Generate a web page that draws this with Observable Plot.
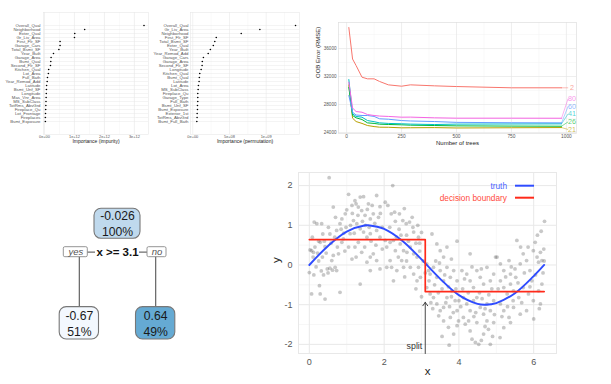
<!DOCTYPE html>
<html><head><meta charset="utf-8">
<script src="https://cdn.jsdelivr.net/npm/d3@7"></script>
<script src="https://cdn.jsdelivr.net/npm/@observablehq/plot@0.6"></script>
<style>
html,body{margin:0;padding:0;background:#fff;}
#root{position:relative;width:611px;height:384px;overflow:hidden;background:#fff;}
.panel{position:absolute;}
.panel svg{display:block;}
</style></head><body><div id="root"></div>
<script>
// ---------- DATA ----------
// Panel 1: impurity importance
const impurityFeatures = ["Overall_Qual","Neighborhood","Exter_Qual","Gr_Liv_Area","First_Flr_SF","Garage_Cars","Total_Bsmt_SF","Year_Built","Garage_Area","Bsmt_Qual","Second_Flr_SF","Kitchen_Qual","Lot_Area","Full_Bath","Year_Remod_Add","Latitude","Bsmt_Unf_SF","Longitude","Mas_Vnr_Area","MS_SubClass","TotRms_AbvGrd","Fireplace_Qu","Lot_Frontage","Fireplaces","Bsmt_Exposure"];
const impurityValues = [3.32e12,1.34e12,1.01e12,1.0e12,0.52e12,0.52e12,0.48e12,0.30e12,0.22e12,0.21e12,0.20e12,0.14e12,0.13e12,0.10e12,0.09e12,0.07e12,0.065e12,0.06e12,0.055e12,0.05e12,0.045e12,0.04e12,0.035e12,0.03e12,0.03e12];
const impurityTicks = [0,1e12,2e12,3e12];
const impurityTickLabels = ["0e+00","1e+12","2e+12","3e+12"];

// Panel 2: permutation importance
const permutationFeatures = ["Overall_Qual","Gr_Liv_Area","Neighborhood","First_Flr_SF","Total_Bsmt_SF","Exter_Qual","Year_Built","Year_Remod_Add","Garage_Cars","Garage_Area","Second_Flr_SF","Longitude","Kitchen_Qual","Bsmt_Qual","Latitude","Lot_Area","MS_SubClass","Fireplace_Qu","Garage_Type","Full_Bath","Bsmt_Unf_SF","Bsmt_Exposure","Exterior_1st","TotRms_AbvGrd","Bsmt_Full_Bath"];
const permutationValues = [1.40e9,0.914e9,0.66e9,0.32e9,0.30e9,0.28e9,0.24e9,0.21e9,0.145e9,0.13e9,0.127e9,0.114e9,0.095e9,0.09e9,0.086e9,0.077e9,0.073e9,0.068e9,0.068e9,0.068e9,0.064e9,0.064e9,0.06e9,0.059e9,0.055e9];
const permutationTicks = [0,5e8,1e9];
const permutationTickLabels = ["0e+00","5e+08","1e+09"];

// Panel 3: OOB error vs number of trees, per mtry
const oobTrees = [10,27,43,70,95,125,150,190,250,290,400,500,750,978];
const oobMtry = ["2","21","26","41","60","80"];
const oob_2  = [39000,34500,33570,31900,31670,31670,31290,30810,30620,30810,30670,30570,30390,30390];
const oob_21 = [30800,26050,25570,25300,25000,24850,24760,24750,24670,24680,24700,24650,24680,24710];
const oob_26 = [30470,26430,26100,25860,25380,25300,25190,25150,25100,25050,25000,24950,24920,24900];
const oob_41 = [31570,26670,26300,26190,25710,25550,25380,25300,25250,25200,25140,25200,25220,25240];
const oob_60 = [29290,26900,26500,26430,26430,26300,25960,25900,25710,25650,25570,25450,25400,25380];
const oob_80 = [31190,27500,27000,26900,26570,26430,26350,26300,26190,26200,26100,26050,26050,26040];
const oobLabelY = [30390,24430,25530,26670,27760,28860];
const oobTicksX = [0,250,500,750,1000];
const oobTicksY = [24000,28000,32000,36000];

// Panel 4: regression tree
const treeSplitLabel = "x >= 3.1";
const treeSplit = 3.1;
const treeValues = [-0.026,-0.67,0.64];
const treePercents = ["100%","51%","49%"];

// Panel 5: data, truth and decision boundary
const noisyPoints = [
[0.02,0.38],[0.06,0.36],[0.11,0.32],[0.0,-0.19],[0.06,-0.73],[0.27,-0.52],[0.42,-0.86],[0.29,-0.73],[0.13,1.08],[0.2,1.04],[0.33,1.04],[0.36,0.78],[0.29,0.57],[0.42,0.46],[0.53,2.2],[0.48,-0.1],[0.55,-0.08],[0.62,-0.13],[0.69,-0.06],[0.73,-0.14],[0.82,-0.69],[0.6,0.11],[0.64,0.24],[0.78,0.28],[0.87,0.57],[0.91,0.66],[0.73,0.87],[0.82,1.04],[0.87,1.16],[0.96,1.29],[0.64,1.46],[1.0,1.39],[1.05,1.78],[0.55,0.78],[0.51,0.95],[0.1,0.2],[0.15,0.45],[0.22,0.3],[0.25,0.1],[0.18,-0.05],[0.35,0.2],[0.4,0.6],[0.45,0.3],[0.58,0.55],[0.68,0.7],[0.75,0.45],[0.85,0.9],[0.92,0.8],[0.95,0.35],[0.98,0.95],[0.08,0.7],[0.32,-0.15],[0.38,-0.25],[0.5,-0.2],[0.12,-0.25],[0.7,1.2],[0.25,0.6],
[1.22,1.62],[1.25,1.54],[1.36,1.71],[1.45,1.72],[1.14,1.5],[1.31,1.46],[1.4,1.37],[1.49,1.25],[1.58,1.54],[1.8,1.75],[2.03,1.58],[1.89,1.47],[1.71,1.29],[1.63,1.16],[1.18,1.12],[1.27,1.04],[1.36,0.91],[1.45,0.83],[1.54,0.7],[1.63,0.79],[1.8,0.87],[1.89,0.7],[2.03,0.62],[1.22,0.45],[1.4,0.32],[1.31,0.57],[1.63,0.2],[1.71,0.28],[1.36,-0.48],[1.63,-0.14],[1.54,0.07],[1.8,0.11],[1.89,-0.1],[2.07,-0.06],[1.09,0.79],[1.05,0.45],[1.14,0.15],[1.1,1.0],[1.2,0.8],[1.5,1.0],[1.6,0.95],[1.75,1.05],[1.85,1.2],[1.95,0.95],[1.3,1.25],[1.42,1.1],[1.55,1.4],[1.68,1.5],[1.78,0.5],[1.95,0.4],[1.25,0.2],[1.48,0.45],[1.65,0.6],[1.9,1.3],[1.15,1.3],
[2.23,2.0],[2.1,1.5],[2.19,1.29],[2.28,1.33],[2.41,1.29],[2.5,1.12],[2.59,1.04],[2.68,1.08],[2.77,0.95],[2.54,1.42],[2.33,0.7],[2.43,0.53],[2.52,0.36],[2.61,0.32],[2.7,0.45],[2.79,0.28],[2.88,0.2],[2.3,0.36],[2.38,0.2],[2.47,0.11],[2.16,0.11],[2.2,-0.06],[2.34,-0.14],[2.52,-0.06],[2.7,-0.06],[2.79,-0.23],[2.88,-0.4],[2.97,-0.31],[2.92,-0.06],[2.07,0.45],[2.16,0.57],[2.25,0.62],[2.79,0.83],[2.92,0.7],[3.0,0.82],[2.4,0.9],[2.6,0.75],[2.85,0.55],[2.95,0.35],[2.15,0.95],[2.3,1.1],[2.45,0.75],[2.65,0.6],[2.75,1.2],[2.55,-0.3],[2.6,0.1],[2.9,1.0],[3.05,0.1],[2.25,-0.4],[2.85,-0.6],[3.0,-0.8],[2.95,0.55],
[3.14,0.03],[3.19,-0.14],[3.23,-0.23],[3.32,-0.06],[3.41,-0.31],[3.5,-0.14],[3.59,-0.4],[3.68,-0.06],[3.77,-0.31],[3.86,-0.14],[3.95,-0.4],[3.28,0.78],[3.41,0.53],[3.5,0.36],[3.59,0.2],[3.68,0.45],[3.14,-0.57],[3.23,-0.73],[3.32,-0.82],[3.41,-0.98],[3.5,-1.15],[3.59,-1.07],[3.68,-0.82],[3.81,-0.65],[3.9,-0.9],[3.95,-1.15],[3.74,-2.02],[3.72,-1.57],[3.86,-1.74],[3.95,-1.53],[3.46,-1.28],[3.59,-1.41],[3.77,-1.32],[3.99,-1.41],[3.95,0.6],[3.2,-0.4],[3.35,-0.5],[3.45,-0.7],[3.55,-0.6],[3.65,-0.95],[3.75,-1.05],[3.85,-1.2],[3.3,-1.1],[3.38,0.1],[3.62,-0.25],[3.72,-0.55],[3.8,-0.8],[3.92,-0.6],[3.55,-1.8],[3.25,-0.95],[3.1,-0.2],[3.48,0.05],[3.8,0.15],
[4.08,-0.14],[4.21,-0.23],[4.3,-0.4],[4.39,-0.57],[4.48,-0.14],[4.57,-0.31],[4.66,-0.48],[4.75,-0.06],[4.84,-0.4],[4.93,-0.23],[4.12,-0.82],[4.21,-0.98],[4.3,-1.15],[4.39,-0.9],[4.48,-0.82],[4.57,-1.07],[4.66,-1.24],[4.75,-0.98],[4.84,-1.15],[4.93,-0.9],[4.17,-1.49],[4.3,-1.66],[4.35,-1.87],[4.44,-1.95],[4.53,-2.0],[4.66,-1.74],[4.79,-1.62],[4.84,-2.0],[4.93,-1.45],[4.12,-1.32],[4.26,-1.41],[4.48,-1.45],[4.75,-1.41],[4.3,0.28],[4.1,-0.6],[4.25,-0.7],[4.4,-1.3],[4.55,-0.7],[4.62,-0.85],[4.7,-1.55],[4.8,-0.75],[4.88,-0.6],[4.95,-1.25],[4.05,-1.05],[4.15,-0.35],[4.35,-0.05],[4.6,-1.9],[4.45,-1.2],[4.7,-1.1],[4.9,-1.8],[4.0,-0.9],[4.6,-0.1],[4.98,0.2],
[5.02,0.2],[5.11,0.03],[5.2,-0.14],[5.34,0.11],[5.38,-0.23],[5.52,-0.31],[5.55,0.62],[5.64,0.03],[5.72,0.28],[5.81,0.11],[5.9,-0.14],[5.99,0.36],[6.09,0.2],[6.13,0.07],[6.18,0.32],[6.22,0.11],[6.27,0.4],[6.29,1.1],[5.11,-0.4],[5.2,-0.57],[5.29,-0.73],[5.38,-0.48],[5.46,-0.65],[5.6,-0.82],[5.72,-0.57],[5.86,-0.73],[5.99,-0.9],[6.13,-0.65],[6.22,-0.48],[5.11,-0.98],[5.2,-1.15],[5.34,-1.32],[5.46,-1.07],[5.64,-1.24],[5.81,-1.15],[6.0,-1.36],[6.18,-0.98],[5.1,-1.83],[5.2,-1.58],[5.38,-1.45],[6.04,0.57],[5.05,-0.6],[5.15,-1.3],[5.25,-0.3],[5.45,-0.9],[5.5,-0.1],[5.58,-0.45],[5.68,-0.95],[5.75,-0.2],[5.85,0.45],[5.95,-0.4],[6.05,-0.25],[6.1,0.75],[6.2,0.85],[6.25,-0.2],[5.3,-1.05],[5.65,0.45],[5.9,-0.55],[6.15,-1.1],[5.4,-0.05],[6.28,0.1]
];
const truthX = [0,0.5,1,1.5,1.57,2,2.5,3,3.5,4,4.5,4.71,5,5.5,6,6.28];
const truthY = [0,0.48,0.84,1.0,1.0,0.91,0.6,0.14,-0.35,-0.76,-0.98,-1.0,-0.96,-0.71,-0.28,0];
const xRange = [0,6.28];
const scatterTicksX = [0,2,4,6];
const scatterTicksY = [-2,-1,0,1,2];
const legendLabels = ["truth","decision boundary"];

// ---------- RENDER ----------
const FONT = '"Liberation Sans", Arial, Helvetica, sans-serif';
const root = document.getElementById("root");
function place(node, left, top) {
  const d = document.createElement("div");
  d.className = "panel";
  d.style.left = left + "px"; d.style.top = top + "px";
  d.appendChild(node); root.appendChild(d);
}

function importancePlot(names, values, o) {
  const data = names.map((n, i) => ({name: n, value: values[i]}));
  return Plot.plot({
    width: o.width, height: 150,
    marginLeft: o.marginLeft, marginRight: o.marginRight, marginTop: 12, marginBottom: 16,
    style: {fontFamily: FONT, fontSize: "4.3px", color: "#4d4d4d", background: "white", overflow: "visible"},
    x: {domain: o.domain, label: null},
    y: {type: "point", domain: names, padding: 0.6, label: null},
    marks: [
      Plot.gridX(o.minor, {stroke: "#f3f3f3", strokeOpacity: 1, strokeWidth: 0.5}),
      Plot.gridX(o.ticks, {stroke: "#e8e8e8", strokeOpacity: 1, strokeWidth: 0.6}),
      Plot.gridY({stroke: "#e8e8e8", strokeOpacity: 1, strokeWidth: 0.5}),
      Plot.frame({stroke: "#e8e8e8", strokeWidth: 0.6}),
      Plot.axisX(o.ticks, {tickSize: 0, tickPadding: 1.2, fontSize: 3.9, fill: "#555",
        tickFormat: d => o.labels[o.ticks.indexOf(d)]}),
      Plot.axisY({tickSize: 0, tickPadding: o.pad, fontSize: 4.3, fill: "#555"}),
      Plot.dot(data, {x: "value", y: "name", r: 0.8, fill: "black"}),
      Plot.text([o.title], {text: d => d, frameAnchor: "bottom", dy: 8.6, fontSize: 5, fill: "#222"})
    ]
  });
}

place(importancePlot(impurityFeatures, impurityValues, {
  width: 152, marginLeft: 43, marginRight: 4, pad: 3,
  domain: [-0.033e12, 3.47e12], ticks: impurityTicks, labels: impurityTickLabels,
  minor: [0.5e12, 1.5e12, 2.5e12], title: "Importance (impurity)"
}), 0, 0);

place(importancePlot(permutationFeatures, permutationValues, {
  width: 155, marginLeft: 40, marginRight: 6, pad: 2,
  domain: [-0.031e9, 1.454e9], ticks: permutationTicks, labels: permutationTickLabels,
  minor: [2.5e8, 7.5e8, 1.25e9], title: "Importance (permutation)"
}), 150, 0);

// OOB panel
const oobSeries = [oob_2, oob_21, oob_26, oob_41, oob_60, oob_80];
const oobData = oobMtry.flatMap((m, k) => oobTrees.map((t, i) => ({mtry: m, trees: t, rmse: oobSeries[k][i]})));
const lastTree = oobTrees[oobTrees.length - 1];
const oobLabels = oobMtry.map((m, k) => ({mtry: m, end: oobSeries[k][oobSeries[k].length - 1], ly: oobLabelY[k]}));
const hue = ["#F8766D", "#B79F00", "#00BA38", "#00BFC4", "#619CFF", "#F564E3"];
place(Plot.plot({
  width: 306, height: 150, marginLeft: 33, marginRight: 35, marginTop: 22, marginBottom: 17,
  style: {fontFamily: FONT, fontSize: "4.7px", color: "#4d4d4d", background: "white", overflow: "visible"},
  x: {domain: [-37, 1046], label: null},
  y: {domain: [23860, 39720], label: null},
  color: {domain: oobMtry, range: hue},
  marks: [
    Plot.gridX([125, 375, 625, 875], {stroke: "#f3f3f3", strokeOpacity: 1, strokeWidth: 0.5}),
    Plot.gridY([26000, 30000, 34000, 38000], {stroke: "#f3f3f3", strokeOpacity: 1, strokeWidth: 0.5}),
    Plot.gridX(oobTicksX, {stroke: "#e6e6e6", strokeOpacity: 1, strokeWidth: 0.7}),
    Plot.gridY(oobTicksY, {stroke: "#e6e6e6", strokeOpacity: 1, strokeWidth: 0.7}),
    Plot.frame({stroke: "#dedede", strokeWidth: 0.7}),
    Plot.line(oobData, {x: "trees", y: "rmse", z: "mtry", stroke: "mtry", strokeWidth: 1}),
    Plot.link(oobLabels, {x1: () => lastTree, y1: "end", x2: () => 1008, y2: "ly", stroke: "mtry", strokeWidth: 0.7, strokeOpacity: 0.7}),
    Plot.text(oobLabels, {x: () => 1026, y: "ly", text: "mtry", fill: "mtry", fillOpacity: 0.7, fontSize: 7.2}),
    Plot.axisX(oobTicksX, {tickSize: 0, tickPadding: 1.5, fontSize: 4.8, fill: "#555", tickFormat: d => String(d)}),
    Plot.axisY(oobTicksY, {tickSize: 0, tickPadding: 2, fontSize: 4.6, fill: "#555", tickFormat: d => String(d)}),
    Plot.text(["Number of trees"], {text: d => d, frameAnchor: "bottom", dy: 11.5, fontSize: 6, fill: "#222"}),
    Plot.text(["OOB Error (RMSE)"], {text: d => d, frameAnchor: "left", dx: -20, rotate: -90, fontSize: 6, fill: "#222"})
  ]
}), 305, 0);

// Tree panel
const blueT = d3.scaleLinear().domain([treeValues[1], treeValues[2]]).range([0.02, 0.52]);
const hier = d3.hierarchy({v: 0, children: [{v: 1}, {v: 2}]});
d3.tree().size([152.6, 99.5])(hier);
const nodes = hier.descendants().map(d => ({
  x: d.x + 40.7, y: d.y + 33.3,
  w: d.depth ? 39.3 : 46, h: d.depth ? 32.3 : 30,
  value: treeValues[d.data.v], pct: treePercents[d.data.v],
  fill: d3.interpolateBlues(blueT(treeValues[d.data.v]))
}));
const rootNode = nodes[0];
const splitY = rootNode.y + rootNode.h / 2 + 13.4;
const branchPts = nodes.slice(1).flatMap((c, i) => [
  {b: i, x: c.x, y: c.y - c.h / 2}, {b: i, x: c.x, y: splitY}, {b: i, x: rootNode.x, y: splitY}
]);
const edgeLabels = [
  {text: "yes", x: rootNode.x - 41.7, w: 24},
  {text: "no", x: rootNode.x + 39.5, w: 19}
];
const fmtVal = v => String(v);
place(Plot.plot({
  width: 240, height: 190, margin: 0,
  style: {fontFamily: FONT, background: "white", overflow: "visible"},
  x: {type: "identity", axis: null}, y: {type: "identity", axis: null},
  marks: [
    Plot.line(branchPts, {x: "x", y: "y", z: "b", stroke: "#6e6e6e", strokeWidth: 1.3}),
    Plot.rect([rootNode], {x1: d => d.x - 22, x2: d => d.x + 22, y1: splitY - 7, y2: splitY + 7, fill: "white"}),
    Plot.text([treeSplitLabel], {x: rootNode.x, y: splitY, text: d => d, fontWeight: "bold", fontSize: 11.5, fill: "#111"}),
    Plot.rect(edgeLabels, {x1: d => d.x - d.w / 2, x2: d => d.x + d.w / 2, y1: splitY - 5, y2: splitY + 5, fill: "white", stroke: "#8a8a8a", strokeWidth: 0.9, rx: 1.5}),
    Plot.text(edgeLabels, {x: "x", y: splitY, text: "text", fontStyle: "italic", fontSize: 9.5, fill: "#555"}),
    Plot.rect(nodes, {x1: d => d.x - d.w / 2, x2: d => d.x + d.w / 2, y1: d => d.y - d.h / 2, y2: d => d.y + d.h / 2, fill: "fill", stroke: "#777", strokeWidth: 1.1, rx: 7}),
    Plot.text(nodes, {x: "x", y: d => d.y - 7.3, text: d => fmtVal(d.value), fontSize: 12.2, fill: "#1a1a1a"}),
    Plot.text(nodes, {x: "x", y: d => d.y + 8.5, text: "pct", fontSize: 12.2, fill: "#1a1a1a"})
  ]
}), 0, 190);

// Scatter panel
const pts = noisyPoints.map(([x, y]) => ({x, y}));
const truth = truthX.map((x, i) => ({x, y: truthY[i]}));
const noVal = treeValues[2], yesVal = treeValues[1];
const boundary = [{x: xRange[0], y: noVal}, {x: treeSplit, y: noVal}, {x: treeSplit, y: yesVal}, {x: xRange[1], y: yesVal}];
const yDomain = [-2.23, 2.33];
const legendColors = ["#2f4cff", "#ff2a1a"];
const legendText = ["#4a63ff", "#ff4a3d"];
function legendMark(index, scales, values, dim) {
  const g = d3.create("svg:g");
  const right = dim.width - dim.marginRight;
  legendLabels.forEach((lab, i) => {
    const y = dim.marginTop + 13.7 + i * 12;
    g.append("line").attr("x1", right - 41).attr("x2", right - 22).attr("y1", y).attr("y2", y)
      .attr("stroke", legendColors[i]).attr("stroke-width", 2);
    g.append("text").attr("x", right - 49).attr("y", y).attr("dy", "0.35em")
      .attr("text-anchor", "end").attr("font-size", 8.3).attr("fill", legendText[i]).text(lab);
  });
  return g.node();
}
place(Plot.plot({
  width: 341, height: 214, marginLeft: 28, marginRight: 55, marginTop: 2, marginBottom: 31,
  style: {fontFamily: FONT, fontSize: "9px", color: "#4d4d4d", background: "white", overflow: "visible"},
  x: {domain: [-0.29, 6.61], label: null},
  y: {domain: yDomain, label: null},
  marks: [
    Plot.gridX([1, 3, 5], {stroke: "#f2f2f2", strokeOpacity: 1, strokeWidth: 0.6}),
    Plot.gridY([-1.5, -0.5, 0.5, 1.5], {stroke: "#f2f2f2", strokeOpacity: 1, strokeWidth: 0.6}),
    Plot.gridX(scatterTicksX, {stroke: "#e8e8e8", strokeOpacity: 1, strokeWidth: 1}),
    Plot.gridY(scatterTicksY, {stroke: "#e8e8e8", strokeOpacity: 1, strokeWidth: 1}),
    Plot.frame({stroke: "#e8e8e8", strokeWidth: 1}),
    Plot.dot(pts, {x: "x", y: "y", r: 1.9, fill: "#4a4a4a", fillOpacity: 0.3}),
    Plot.line(truth, {x: "x", y: "y", stroke: "#2f4cff", strokeWidth: 1.9, curve: "catmull-rom"}),
    Plot.line(boundary, {x: "x", y: "y", stroke: "#ff2a1a", strokeWidth: 1.7}),
    Plot.arrow([{x: treeSplit}], {x1: "x", x2: "x", y1: () => yDomain[0], y2: () => -0.94, stroke: "#333", strokeWidth: 0.9, headLength: 7, headAngle: 70}),
    Plot.text(["split"], {x: treeSplit, y: -2.04, text: d => d, textAnchor: "end", dx: -3, fontSize: 8.8, fill: "#333"}),
    Plot.axisX(scatterTicksX, {tickSize: 0, tickPadding: 5, fontSize: 9, fill: "#555", tickFormat: d => String(d)}),
    Plot.axisY(scatterTicksY, {tickSize: 0, tickPadding: 6, fontSize: 9, fill: "#555", tickFormat: d => String(d)}),
    Plot.text(["x"], {text: d => d, frameAnchor: "bottom", dy: 21.5, fontSize: 11.5, fill: "#222"}),
    Plot.text(["y"], {text: d => d, frameAnchor: "left", dx: -22, rotate: -90, fontSize: 11.5, fill: "#222"}),
    legendMark
  ]
}), 270, 170);
</script>
</body></html>
